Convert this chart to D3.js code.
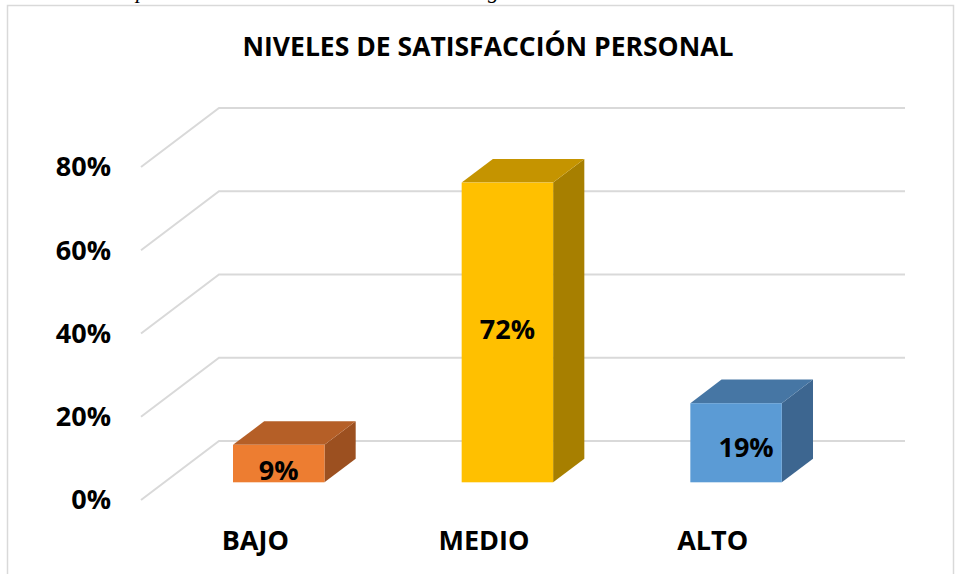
<!DOCTYPE html>
<html>
<head>
<meta charset="utf-8">
<script src="https://cdn.jsdelivr.net/npm/d3@7"></script>
<style>
  html, body { margin: 0; padding: 0; background: #fff; }
  svg { display: block; }
</style>
</head>
<body>
<svg id="chart" width="955" height="574"></svg>
<script>
const categories = ["BAJO", "MEDIO", "ALTO"];
const values = [0.09, 0.72, 0.19];
const valueLabels = ["9%", "72%", "19%"];
const tickValues = [0, 0.2, 0.4, 0.6, 0.8];
const title = "NIVELES DE SATISFACCIÓN PERSONAL";
const frontColors = ["#ED7D31", "#FFC000", "#5B9BD5"];
const topColors = ["#B55F27", "#C59400", "#4676A4"];
const sideColors = ["#9C5020", "#A77F00", "#3D6690"];

const svg = d3.select("#chart");
const font = "'Open Sans', 'Liberation Sans', sans-serif";

// cut-off caption descenders above the chart frame
svg.append("text").attr("x", 136).attr("y", -2)
  .attr("font-family", "'Liberation Serif', serif").attr("font-style", "italic")
  .attr("font-size", 22).attr("fill", "#000").text("p");
svg.append("text").attr("x", 488).attr("y", -2)
  .attr("font-family", "'Liberation Serif', serif").attr("font-style", "italic")
  .attr("font-size", 22).attr("fill", "#000").text("g");

// chart frame
svg.append("rect").attr("x", 7.5).attr("y", 5.5).attr("width", 946).attr("height", 600)
  .attr("fill", "#fff").attr("stroke", "#D9D9D9").attr("stroke-width", 1.5);

// geometry
const depth = { dx: 78, dy: -59 };
const yFront = d3.scaleLinear().domain([0, 0.8]).range([500, 167]);
const xFront = d3.scaleBand().domain(categories).range([141, 827]);
const barFrac = 0.4;      // bar width as fraction of band
const barDepthStart = 0.3; // bar front face depth fraction
const barDepthLen = 0.4;   // bar depth fraction

// back wall gridlines + side wall diagonals
const grid = svg.append("g").attr("stroke", "#D9D9D9").attr("stroke-width", 2).attr("fill", "none");
tickValues.forEach(t => {
  const yf = yFront(t);
  const xb = xFront.range()[0] + depth.dx;
  const yb = yf + depth.dy;
  const xe = xFront.range()[1] + depth.dx;
  grid.append("path").attr("d", `M${xFront.range()[0]},${yf}L${xb},${yb}L${xe},${yb}`);
});

// tick labels
svg.append("g").selectAll("text").data(tickValues).join("text")
  .attr("x", 111).attr("y", d => yFront(d))
  .attr("dy", "0.35em").attr("text-anchor", "end")
  .attr("font-family", font).attr("font-weight", 700).attr("font-size", 27)
  .attr("fill", "#000").text(d => d3.format(".0%")(d));

// bars
const bars = svg.append("g");
categories.forEach((c, i) => {
  const bw = xFront.bandwidth() * barFrac;
  const cx = xFront(c) + xFront.bandwidth() / 2 + depth.dx * barDepthStart;
  const ox = depth.dx * barDepthLen, oy = depth.dy * barDepthLen;
  const x0 = cx - bw / 2, x1 = cx + bw / 2;
  const yb = yFront(0) + depth.dy * barDepthStart;
  const yt = yFront(values[i]) + depth.dy * barDepthStart;
  const g = bars.append("g");
  // side face
  g.append("path").attr("fill", sideColors[i])
    .attr("d", `M${x1},${yt}L${x1 + ox},${yt + oy}L${x1 + ox},${yb + oy}L${x1},${yb}Z`);
  // top face
  g.append("path").attr("fill", topColors[i])
    .attr("d", `M${x0},${yt}L${x0 + ox},${yt + oy}L${x1 + ox},${yt + oy}L${x1},${yt}Z`);
  // front face
  g.append("rect").attr("fill", frontColors[i])
    .attr("x", x0).attr("y", yt).attr("width", bw).attr("height", yb - yt);
  // value label
  g.append("text").attr("x", cx + (i === 2 ? 10 : 0)).attr("y", (yt + yb) / 2 + (i === 0 ? 7 : (i === 2 ? 5 : -3)))
    .attr("dy", "0.35em").attr("text-anchor", "middle")
    .attr("font-family", font).attr("font-weight", 700).attr("font-size", 27)
    .attr("fill", "#000").text(valueLabels[i]);
});

// category labels
svg.append("g").selectAll("text").data(categories).join("text")
  .attr("x", d => xFront(d) + xFront.bandwidth() / 2).attr("y", 541)
  .attr("dy", "0.35em").attr("text-anchor", "middle")
  .attr("font-family", font).attr("font-weight", 700).attr("font-size", 27)
  .attr("fill", "#000").text(d => d);

// title
svg.append("text").attr("x", 488).attr("y", 47).attr("dy", "0.35em")
  .attr("text-anchor", "middle").attr("font-family", font).attr("font-weight", 700)
  .attr("font-size", 26.5).attr("fill", "#000").text(title);
</script>
</body>
</html>
